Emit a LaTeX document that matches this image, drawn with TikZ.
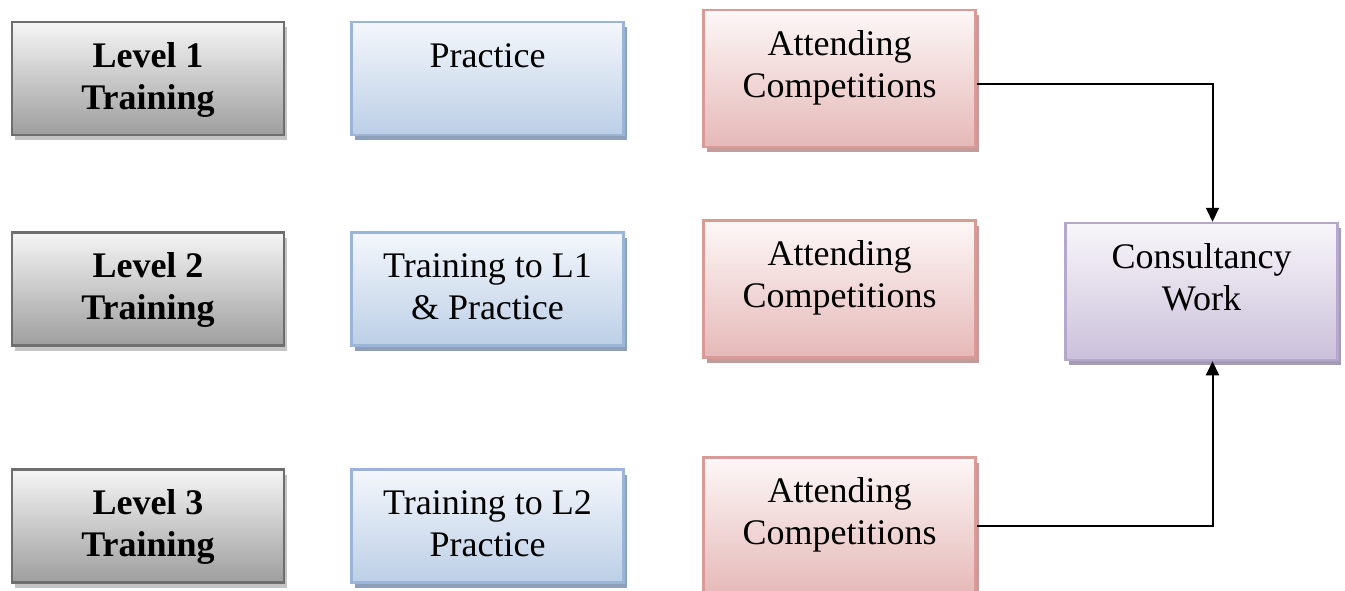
\documentclass[tikz,border=0pt]{standalone}
\usepackage{fontspec}
\setmainfont{Liberation Serif}
\usetikzlibrary{shadows,arrows.meta}

\definecolor{grayBd}{HTML}{6E6E6E}
\definecolor{grayTop}{HTML}{F5F5F5}
\definecolor{grayBot}{HTML}{9E9E9E}
\definecolor{grayShd}{HTML}{C4C4C4}
\definecolor{blueBd}{HTML}{9AB5D8}
\definecolor{blueTop}{HTML}{F4F7FC}
\definecolor{blueBot}{HTML}{BCCFE6}
\definecolor{blueShd}{HTML}{8C9FBB}
\definecolor{redBd}{HTML}{D99A98}
\definecolor{redTop}{HTML}{FDF7F7}
\definecolor{redBot}{HTML}{E5B9B8}
\definecolor{redShd}{HTML}{C29C9C}
\definecolor{violBd}{HTML}{B6A8CC}
\definecolor{violTop}{HTML}{F8F6FA}
\definecolor{violBot}{HTML}{CBC0DA}
\definecolor{violShd}{HTML}{A49CB4}

\begin{document}
\begin{tikzpicture}[x=1pt,y=-1pt,
  every node/.style={rectangle,draw,line width=2.5pt,inner sep=0pt,text width=272pt,
    align=flush center,text height=45pt,font=\fontsize{36}{42}\selectfont},
  lvl/.style={draw=grayBd,top color=grayTop,bottom color=grayBot,text depth=68pt,
    font=\fontsize{36}{42}\selectfont\bfseries,
    drop shadow={shadow xshift=3pt,shadow yshift=-5pt,opacity=1,fill=grayShd}},
  prac/.style={draw=blueBd,top color=blueTop,bottom color=blueBot,text depth=68pt,
    drop shadow={shadow xshift=3pt,shadow yshift=-5pt,opacity=1,fill=blueShd}},
  comp/.style={draw=redBd,top color=redTop,bottom color=redBot,text depth=92pt,
    drop shadow={shadow xshift=3pt,shadow yshift=-5pt,opacity=1,fill=redShd}},
  cons/.style={draw=violBd,top color=violTop,bottom color=violBot,text depth=92pt,
    drop shadow={shadow xshift=3pt,shadow yshift=-5pt,opacity=1,fill=violShd}},
  link/.style={draw=black,line width=2pt,-{Triangle[length=14pt,width=13pt]}}]
  \useasboundingbox (0,0) rectangle (1345,590);

  % Levels
  \node[lvl] (l1) at (148, 78.5) {Level 1\\Training};
  \node[lvl] (l2) at (148, 289) {Level 2\\Training};
  \node[lvl] (l3) at (148, 526) {Level 3\\Training};

  % Practice
  \node[prac] (p1) at (487.5, 78.5) {Practice};
  \node[prac] (p2) at (487.5, 289) {Training to L1\\\& Practice};
  \node[prac] (p3) at (487.5, 526) {Training to L2\\Practice};

  % Competitions
  \node[comp] (c1) at (839.5, 78.5) {Attending\\Competitions};
  \node[comp] (c2) at (839.5, 289) {Attending\\Competitions};
  \node[comp] (c3) at (839.5, 526) {Attending\\Competitions};

  % Consultancy
  \node[cons] (cw) at (1201.5, 291.5) {Consultancy\\Work};

  % Links
  \draw[link] ([yshift=-5pt]c1.east) -| ([xshift=11pt]cw.north);
  \draw[link] (c3.east) -| ([xshift=11pt]cw.south);
\end{tikzpicture}
\end{document}
